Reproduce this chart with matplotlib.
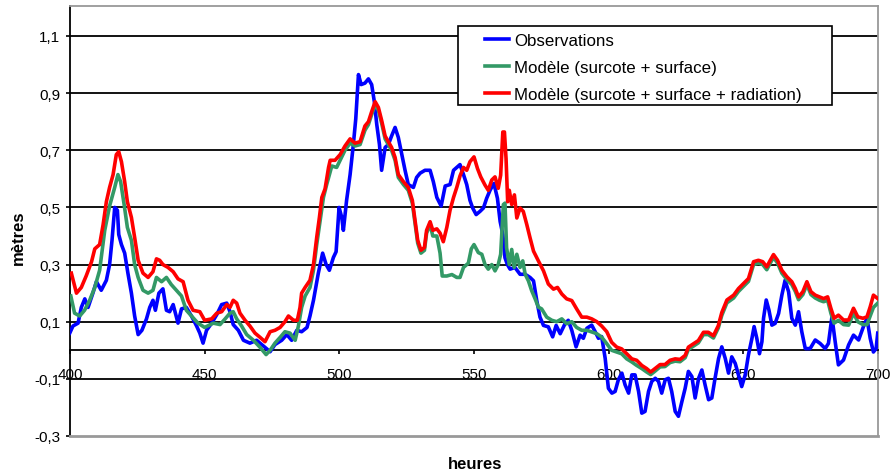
import numpy as np
import matplotlib.pyplot as plt
from matplotlib.patches import Rectangle

plt.rcParams['font.family'] = ['Liberation Sans', 'DejaVu Sans']

# Observations (heures, metres)
h_obs = [399.9, 401.1, 403.0, 404.2, 405.5, 406.7, 408.5, 409.8, 411.6, 413.5, 414.7, 415.6,
         416.6, 417.6, 418.1, 419.1, 420.3, 421.5, 422.8, 424.0, 425.3, 426.7, 428.4, 429.6,
         430.8, 431.7, 433.0, 434.5, 435.8, 437.0, 438.3, 440.1, 441.4, 443.2, 445.1, 447.0,
         448.2, 449.4, 450.7, 452.6, 454.5, 456.3, 458.2, 459.4, 460.6, 462.5, 464.4, 466.8,
         469.3, 471.8, 474.3, 476.1, 478.6, 480.5, 482.3, 484.2, 486.0, 488.0, 489.1, 490.4,
         492.2, 493.8, 495.1, 496.3, 497.8, 498.8, 499.9, 500.9, 501.5, 502.7, 504.0, 505.2,
         506.1, 507.1, 508.1, 509.5, 510.8, 512.0, 513.0, 513.9, 514.9, 515.7, 517.0, 518.2,
         519.4, 520.7, 521.9, 523.2, 524.4, 525.6, 527.5, 528.7, 530.0, 531.8, 533.7, 534.9,
         536.2, 537.8, 539.3, 541.1, 542.4, 543.6, 544.8, 546.1, 547.3, 548.5, 549.5, 550.8,
         552.2, 553.5, 554.7, 556.0, 557.4, 558.7, 559.7, 560.7, 561.5, 562.4, 563.4, 565.2,
         567.1, 569.0, 570.8, 572.1, 573.3, 574.5, 575.8, 577.6, 579.2, 580.5, 582.0, 583.8,
         585.0, 586.3, 587.9, 589.4, 590.6, 591.9, 593.7, 595.0, 596.2, 597.4, 598.7, 599.9,
         601.2, 602.4, 603.6, 604.9, 606.1, 607.4, 608.6, 609.8, 611.1, 612.3, 613.5, 614.8,
         616.0, 617.3, 618.5, 619.7, 621.0, 622.2, 623.4, 624.7, 625.9, 627.2, 628.4, 629.6,
         630.9, 632.1, 633.4, 634.6, 635.8, 637.1, 638.3, 639.5, 640.8, 642.0, 643.3, 644.5,
         645.7, 647.0, 648.2, 649.4, 650.7, 651.9, 653.2, 654.0, 655.0, 656.0, 656.9, 657.5,
         658.5, 659.5, 660.6, 661.8, 663.1, 664.3, 665.5, 666.8, 668.0, 669.3, 670.5, 671.7,
         673.0, 674.8, 676.7, 678.5, 680.4, 681.6, 682.9, 684.1, 685.3, 687.2, 689.1, 690.9,
         692.8, 694.6, 695.9, 697.1, 698.3, 699.3, 699.9]
obs = [0.06, 0.085, 0.095, 0.15, 0.18, 0.15, 0.20, 0.24, 0.21, 0.245, 0.30, 0.385,
       0.50, 0.49, 0.405, 0.37, 0.34, 0.27, 0.20, 0.12, 0.055, 0.07, 0.11, 0.15,
       0.175, 0.14, 0.20, 0.215, 0.14, 0.135, 0.16, 0.095, 0.145, 0.15, 0.12, 0.085,
       0.06, 0.025, 0.07, 0.095, 0.125, 0.16, 0.165, 0.135, 0.09, 0.07, 0.035, 0.025,
       0.035, 0.015, -0.005, 0.02, 0.035, 0.055, 0.035, 0.07, 0.065, 0.08, 0.12, 0.175,
       0.27, 0.34, 0.30, 0.28, 0.325, 0.345, 0.50, 0.465, 0.42, 0.525, 0.615, 0.72,
       0.81, 0.965, 0.93, 0.935, 0.95, 0.93, 0.87, 0.79, 0.72, 0.63, 0.71, 0.72,
       0.75, 0.78, 0.745, 0.685, 0.63, 0.58, 0.57, 0.605, 0.62, 0.63, 0.63, 0.59,
       0.535, 0.505, 0.575, 0.58, 0.63, 0.64, 0.65, 0.615, 0.58, 0.525, 0.498, 0.475,
       0.486, 0.498, 0.532, 0.561, 0.584, 0.532, 0.451, 0.405, 0.324, 0.30, 0.284, 0.29,
       0.266, 0.266, 0.255, 0.243, 0.174, 0.116, 0.087, 0.082, 0.047, 0.087, 0.058, 0.093,
       0.105, 0.07, 0.012, 0.053, 0.042, 0.077, 0.088, 0.065, 0.042, 0.048, -0.028, -0.133,
       -0.15, -0.144, -0.103, -0.08, -0.121, -0.15, -0.086, -0.086, -0.144, -0.22, -0.214, -0.144,
       -0.109, -0.098, -0.109, -0.15, -0.103, -0.098, -0.144, -0.214, -0.231, -0.179, -0.133, -0.074,
       -0.092, -0.167, -0.098, -0.069, -0.121, -0.173, -0.167, -0.098, -0.029, 0.012, -0.029, -0.08,
       -0.023, -0.046, -0.086, -0.127, -0.086, -0.016, 0.042, 0.083, 0.042, -0.012, 0.03, 0.112,
       0.176, 0.141, 0.088, 0.094, 0.129, 0.193, 0.245, 0.205, 0.112, 0.088, 0.135, 0.065,
       0.006, 0.006, 0.036, 0.024, 0.006, 0.024, 0.117, 0.03, -0.051, -0.034, 0.019, 0.053,
       0.036, 0.083, 0.112, 0.042, -0.006, 0.006, 0.06]

# Modele (surcote + surface)
h_m1 = [400.3, 401.7, 403.6, 405.4, 407.3, 409.2, 411.0, 412.9, 414.7, 416.6, 417.8, 418.8,
        420.1, 421.3, 422.8, 424.0, 425.3, 427.1, 429.0, 430.8, 432.1, 434.0, 435.8, 437.6,
        439.5, 441.4, 443.2, 445.1, 447.5, 450.0, 453.2, 455.7, 457.6, 459.4, 460.6, 461.9,
        463.7, 465.6, 468.1, 470.6, 472.8, 474.3, 476.1, 478.0, 479.8, 481.7, 483.6, 484.8,
        486.0, 487.3, 489.1, 490.4, 491.6, 492.8, 494.1, 495.3, 497.2, 499.0, 500.3, 502.1,
        504.0, 505.8, 507.7, 509.5, 510.8, 512.0, 513.3, 514.5, 515.7, 517.0, 518.2, 519.4,
        520.7, 521.9, 523.8, 525.6, 527.1, 528.1, 529.1, 530.3, 531.6, 532.4, 533.7, 534.7,
        536.2, 537.4, 538.2, 539.9, 541.8, 543.6, 544.8, 546.1, 547.9, 549.0, 550.0, 551.6,
        552.9, 554.1, 555.3, 556.6, 557.8, 559.0, 559.9, 560.9, 561.5, 562.1, 563.1, 564.0,
        564.9, 565.9, 567.1, 568.1, 569.0, 570.2, 571.4, 572.7, 573.9, 575.1, 577.0, 578.9,
        580.7, 582.6, 584.4, 586.3, 588.1, 590.0, 591.9, 593.7, 595.6, 597.4, 599.3, 601.1,
        603.0, 604.8, 606.7, 608.6, 610.4, 612.3, 614.1, 615.6, 617.2, 619.1, 620.9, 622.8,
        624.7, 626.5, 628.4, 629.6, 631.5, 633.3, 635.2, 637.0, 638.9, 640.7, 642.0, 643.9,
        646.4, 648.2, 650.1, 651.9, 653.8, 655.6, 657.2, 658.7, 660.0, 661.2, 662.7, 664.3,
        666.2, 668.0, 669.3, 670.5, 672.1, 673.6, 675.1, 676.7, 678.3, 679.8, 681.3, 682.5,
        683.7, 685.3, 687.2, 689.1, 690.9, 692.5, 694.4, 695.9, 697.1, 698.3, 699.9]
m1 = [0.19, 0.13, 0.12, 0.14, 0.175, 0.22, 0.28, 0.42, 0.505, 0.57, 0.615, 0.59,
      0.51, 0.43, 0.385, 0.30, 0.255, 0.21, 0.20, 0.21, 0.255, 0.24, 0.255, 0.23,
      0.21, 0.19, 0.14, 0.12, 0.095, 0.08, 0.095, 0.09, 0.11, 0.13, 0.135, 0.11,
      0.085, 0.055, 0.035, 0.01, -0.015, 0.0, 0.025, 0.045, 0.065, 0.06, 0.035, 0.085,
      0.15, 0.19, 0.22, 0.28, 0.37, 0.45, 0.535, 0.58, 0.645, 0.64, 0.665, 0.70,
      0.725, 0.715, 0.72, 0.77, 0.79, 0.825, 0.86, 0.84, 0.795, 0.74, 0.72, 0.70,
      0.665, 0.605, 0.58, 0.56, 0.515, 0.445, 0.375, 0.34, 0.35, 0.41, 0.44, 0.40,
      0.40, 0.34, 0.26, 0.26, 0.265, 0.255, 0.255, 0.29, 0.305, 0.355, 0.37, 0.342,
      0.336, 0.30, 0.284, 0.30, 0.278, 0.30, 0.336, 0.51, 0.515, 0.359, 0.30, 0.353,
      0.29, 0.336, 0.29, 0.313, 0.266, 0.243, 0.209, 0.18, 0.151, 0.145, 0.116, 0.105,
      0.10, 0.11, 0.093, 0.10, 0.08, 0.07, 0.07, 0.064, 0.058, 0.046, 0.023, 0.0,
      -0.006, -0.012, -0.03, -0.041, -0.053, -0.064, -0.076, -0.085, -0.073, -0.058, -0.057, -0.043,
      -0.038, -0.04, -0.026, 0.003, 0.015, 0.026, 0.055, 0.055, 0.043, 0.078, 0.122, 0.166,
      0.183, 0.206, 0.224, 0.241, 0.30, 0.305, 0.30, 0.282, 0.305, 0.325, 0.305, 0.27,
      0.247, 0.23, 0.206, 0.177, 0.195, 0.23, 0.195, 0.183, 0.175, 0.17, 0.175, 0.13,
      0.095, 0.105, 0.09, 0.088, 0.13, 0.10, 0.09, 0.09, 0.12, 0.15, 0.165]

# Modele (surcote + surface + radiation)
h_m2 = [400.5, 402.4, 404.2, 406.0, 408.0, 409.2, 411.0, 412.3, 413.5, 414.7, 416.0, 417.2,
        418.1, 419.1, 420.3, 421.3, 422.8, 424.0, 425.3, 427.1, 429.0, 430.8, 432.1, 433.3,
        434.5, 436.4, 438.3, 440.1, 442.0, 443.8, 445.7, 448.2, 450.0, 452.6, 454.5, 456.3,
        458.2, 459.4, 460.6, 461.9, 463.1, 465.0, 466.8, 468.7, 470.6, 472.4, 474.3, 476.1,
        478.0, 479.8, 481.1, 483.0, 484.4, 485.4, 486.0, 487.3, 489.1, 490.4, 491.6, 492.6,
        493.5, 494.7, 496.0, 496.6, 498.4, 500.3, 502.1, 504.0, 505.8, 507.7, 509.5, 510.8,
        512.0, 513.3, 514.5, 515.7, 517.0, 518.2, 519.4, 520.7, 521.9, 523.8, 525.6, 527.1,
        528.1, 529.1, 530.3, 531.6, 532.4, 533.7, 534.7, 536.2, 537.4, 538.6, 539.9, 541.1,
        542.4, 543.6, 544.8, 546.1, 547.3, 548.5, 550.0, 551.3, 552.5, 554.1, 555.3, 556.6,
        557.8, 559.0, 559.9, 560.7, 561.3, 561.9, 562.5, 563.1, 564.0, 565.0, 565.9, 567.1,
        568.3, 569.6, 570.8, 572.1, 573.9, 575.8, 577.6, 579.5, 581.0, 582.6, 584.4, 586.3,
        588.1, 590.0, 591.9, 593.7, 595.6, 597.4, 599.3, 601.1, 603.0, 604.8, 606.7, 608.6,
        610.4, 612.3, 614.1, 615.6, 617.2, 619.1, 620.9, 622.8, 624.7, 626.5, 628.4, 629.6,
        631.5, 633.3, 635.2, 637.0, 638.9, 640.7, 642.0, 643.9, 646.4, 648.2, 650.1, 651.9,
        653.8, 655.6, 657.2, 658.7, 660.0, 661.2, 662.7, 664.3, 666.2, 668.0, 669.3, 670.5,
        672.1, 673.6, 675.1, 676.7, 678.3, 679.8, 681.3, 682.5, 683.7, 685.3, 687.2, 689.1,
        690.9, 692.5, 694.4, 695.9, 697.1, 698.3, 699.9]
m2 = [0.27, 0.20, 0.22, 0.26, 0.31, 0.355, 0.37, 0.44, 0.52, 0.57, 0.615, 0.685,
      0.695, 0.66, 0.59, 0.52, 0.465, 0.395, 0.315, 0.27, 0.255, 0.275, 0.32, 0.315,
      0.30, 0.29, 0.275, 0.25, 0.24, 0.175, 0.14, 0.135, 0.105, 0.11, 0.13, 0.135,
      0.16, 0.15, 0.175, 0.165, 0.13, 0.105, 0.085, 0.06, 0.045, 0.03, 0.065, 0.07,
      0.08, 0.10, 0.12, 0.105, 0.105, 0.15, 0.20, 0.22, 0.245, 0.30, 0.395, 0.465,
      0.535, 0.565, 0.64, 0.665, 0.665, 0.685, 0.715, 0.74, 0.725, 0.73, 0.785, 0.80,
      0.835, 0.87, 0.85, 0.805, 0.75, 0.73, 0.71, 0.675, 0.615, 0.59, 0.57, 0.525,
      0.455, 0.385, 0.35, 0.36, 0.42, 0.45, 0.42, 0.425, 0.41, 0.38, 0.43, 0.49,
      0.535, 0.57, 0.61, 0.64, 0.63, 0.66, 0.677, 0.636, 0.607, 0.578, 0.56, 0.596,
      0.607, 0.567, 0.613, 0.764, 0.764, 0.671, 0.52, 0.56, 0.51, 0.544, 0.463, 0.498,
      0.486, 0.44, 0.394, 0.347, 0.313, 0.278, 0.232, 0.214, 0.22, 0.197, 0.18, 0.174,
      0.145, 0.116, 0.116, 0.11, 0.10, 0.085, 0.065, 0.028, 0.011, 0.005, -0.012, -0.03,
      -0.035, -0.053, -0.064, -0.076, -0.064, -0.05, -0.05, -0.035, -0.03, -0.032, -0.018, 0.011,
      0.023, 0.034, 0.063, 0.063, 0.051, 0.086, 0.132, 0.176, 0.193, 0.216, 0.234, 0.251,
      0.31, 0.315, 0.31, 0.292, 0.315, 0.335, 0.315, 0.28, 0.257, 0.24, 0.216, 0.187,
      0.205, 0.24, 0.205, 0.193, 0.187, 0.181, 0.187, 0.147, 0.112, 0.123, 0.106, 0.106,
      0.147, 0.117, 0.112, 0.117, 0.152, 0.193, 0.181]

yticks = [-0.3, -0.1, 0.1, 0.3, 0.5, 0.7, 0.9, 1.1]
xticks = [400, 450, 500, 550, 600, 650, 700]

fig = plt.figure(figsize=(8.92, 4.77), dpi=100)
ax = fig.add_axes([70 / 892, 40 / 477, 808 / 892, 430 / 477])

l1, = ax.plot(h_obs, obs, color='#0000FF', lw=2.6, zorder=3)
l2, = ax.plot(h_m1, m1, color='#339966', lw=2.6, zorder=4)
l3, = ax.plot(h_m2, m2, color='#FF0000', lw=2.6, zorder=5)

ax.set_xlim(400, 700)
ax.set_ylim(-0.3, 1.205)
ax.set_yticks(yticks)
ax.set_yticklabels([('%.1f' % v).replace('.', ',') for v in yticks])
ax.set_xticks(xticks)
ax.set_xticklabels([str(v) for v in xticks])

ax.grid(axis='y', color='black', lw=1.3, zorder=1)
ax.yaxis.get_gridlines()[0].set_visible(False)

ax.spines['bottom'].set_position(('data', 0))
ax.spines['bottom'].set_color('black')
ax.spines['bottom'].set_linewidth(1.3)
ax.spines['left'].set_color('black')
ax.spines['left'].set_linewidth(1.3)
for s in ['top', 'right']:
    ax.spines[s].set_color('#999999')
    ax.spines[s].set_linewidth(1.3)
ax.plot([0, 1], [0, 0], transform=ax.transAxes, color='#999999', lw=2, clip_on=False, zorder=6)

ax.tick_params(axis='y', direction='out', length=3, width=1.2, labelsize=11, pad=4)
ax.tick_params(axis='x', direction='out', length=3, width=1.2, labelsize=11, pad=9)

fig.text(18 / 892, 1 - 238 / 477, 'mètres', rotation=90, ha='center', va='center',
         fontsize=12, fontweight='bold')
fig.text(475 / 892, 1 - 465 / 477, 'heures', ha='center', va='center',
         fontsize=12, fontweight='bold')

# legend box (wider than its text, as in the original)
box = Rectangle((458 / 892, 1 - 106 / 477), 374 / 892, 79 / 477, transform=fig.transFigure,
                facecolor='white', edgecolor='black', lw=1.2, zorder=5)
fig.add_artist(box)
leg = fig.legend([l1, l2, l3],
                 ['Observations', 'Modèle (surcote + surface)',
                  'Modèle (surcote + surface + radiation)'],
                 loc='upper left', bbox_to_anchor=(485 / 892, 1 - 34 / 477),
                 fontsize=12.2, frameon=False, borderaxespad=0, borderpad=0,
                 handlelength=1.4, handletextpad=0.3, labelspacing=0.72)
leg.set_zorder(6)

fig.savefig('out.png', dpi=100)
